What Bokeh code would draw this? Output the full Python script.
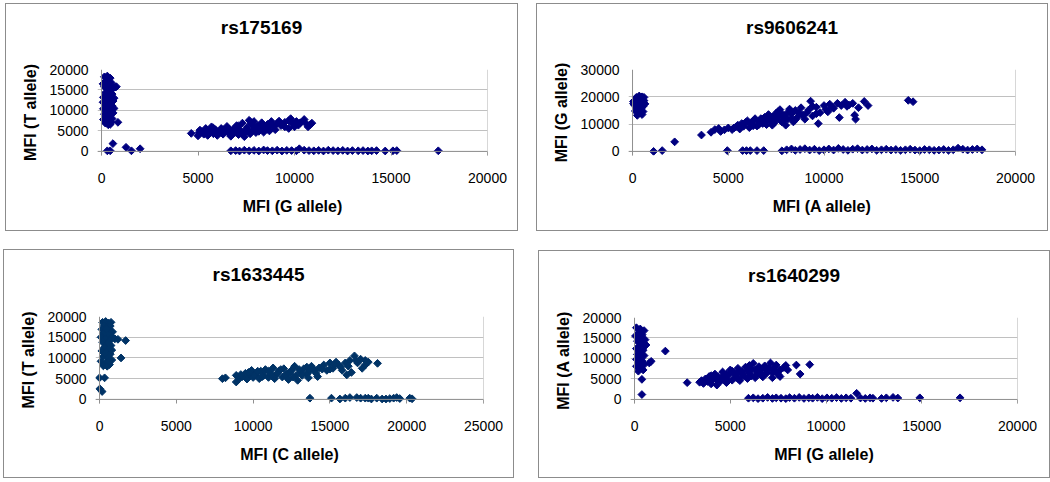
import numpy as np
from bokeh.plotting import figure
from bokeh.layouts import column, row
from bokeh.models import Span, FixedTicker, Range1d, Title
from bokeh.embed import file_html
from bokeh.resources import INLINE

# ---------------- data ----------------
TITLES = ["rs175169", "rs9606241", "rs1633445", "rs1640299"]
X_LABELS = ["MFI (G allele)", "MFI (A allele)", "MFI (C allele)", "MFI (G allele)"]
Y_LABELS = ["MFI (T allele)", "MFI (G allele)", "MFI (T allele)", "MFI (A allele)"]
X_TICKS = [[0, 5000, 10000, 15000, 20000], [0, 5000, 10000, 15000, 20000],
           [0, 5000, 10000, 15000, 20000, 25000], [0, 5000, 10000, 15000, 20000]]
Y_TICKS = [[0, 5000, 10000, 15000, 20000], [0, 10000, 20000, 30000],
           [0, 5000, 10000, 15000, 20000], [0, 5000, 10000, 15000, 20000]]
COLORS = ["#000080", "#000080", "#003366", "#000080"]

# rs175169 : (G allele, T allele)
P1_TT = [(150,18200),(300,18400),(450,17900),(250,17300),(500,16800),(350,16300),(150,15800),
         (600,15600),(700,15700),(300,15200),(450,14700),(200,14300),(550,14000),(350,13600),
         (100,13200),(450,13000),(250,12500),(600,12300),(150,11900),(400,11600),(550,11100),
         (250,10800),(100,10400),(450,10200),(300,9700),(600,9400),(150,9100),(400,8800),
         (250,8300),(550,8000),(100,7800),(350,7500),(500,7100),(200,6900),(450,6600),
         (850,7100),(770,15800),(350,6500),(650,13000),(650,10500),(80,12000),(80,16500),
         (300,150),(450,150),(590,1900),(1270,1000),(1550,150),(2000,650)]
P1_GT = [(4650,4400),(5000,3800),(5050,4600),(5100,5200),(5300,4200),(5400,5600),(5500,3900),
         (5600,4800),(5700,6000),(5800,4300),(5900,5300),(6000,3900),(6100,4700),(6200,5600),
         (6300,4200),(6400,5000),(6500,6100),(6600,4400),(6700,3700),(6800,5300),(6900,4600),
         (7000,6300),(7100,4100),(7200,5100),(7300,6900),(7400,3600),(7450,4700),(7550,5800),
         (7650,7600),(7700,4300),(7800,6500),(7850,5200),(7900,7300),(8000,4600),(8100,6200),
         (8200,5400),(8300,7000),(8400,4700),(8500,5800),(8600,6600),(8700,5000),(8800,7300),
         (8900,6000),(9100,6800),(9300,6300),(9500,7100),(9700,5600),(9800,8000),(9900,6800),
         (10100,7300),(10200,6400),(10500,7800),(10700,6000),(10800,6500),(10900,6900),
         (5200,4800),(5500,5000),(5800,5700),(6200,4600),(6600,5500),(6900,5500),(7100,6200),
         (7300,4500),(7600,4900),(7750,6900),(8000,5800),(8300,6000),(8600,5400),(9000,5300),
         (9200,7400),(9500,6000),(9700,7500),(10000,6000),(10300,7000),(10600,6800),(6300,5300),
         (7000,4800),(7500,5400),(8150,4900),(8800,6600)]
P1_GG = [(6700,150),(6950,200),(7150,100),(7400,300),(7650,150),(7900,250),(8150,100),(8400,350),
         (8600,200),(8850,150),(9100,300),(9350,100),(9600,250),(9850,200),(10100,150),(10250,650),
         (10500,300),(10750,200),(11000,150),(11250,250),(11500,100),(11750,300),(12000,200),
         (12250,150),(12500,250),(12750,100),(13000,200),(13300,150),(13550,200),(13800,100),
         (14000,150),(14250,200),(14700,100),(15100,150),(15300,200),(17450,150)]

# rs9606241 : (A allele, G allele)
P2_GG = [(50,17500),(200,19800),(350,20300),(500,20000),(150,18900),(400,19200),(600,18600),
         (250,18100),(450,17600),(100,17000),(350,16800),(550,16500),(200,16000),(450,15600),
         (300,15100),(550,14600),(150,14800),(400,14000),(250,13200),(500,13500),(600,19800),
         (300,17300),(650,17400),(50,18300)]
P2_AG = [(2200,3500),(3600,6000),(4100,7000),(4300,8000),(4600,7300),(4800,7900),(5000,8600),
         (5200,8000),(5400,9000),(5600,8200),(5700,10200),(5800,9200),(6000,11200),(6100,8700),
         (6200,10000),(6400,12000),(6500,9300),(6600,11000),(6800,10200),(6900,12500),(7000,9800),
         (7100,13500),(7200,11300),(7400,10500),(7500,14000),(7600,12300),(7700,15300),(7800,10800),
         (7900,13200),(8000,9600),(8100,11800),(8200,15500),(8300,13800),(8400,10800),(8500,15000),
         (8600,12400),(8800,16000),(8900,13300),(9000,11800),(9200,15200),(9300,18400),(9400,13000),
         (9600,16200),(9700,10200),(9800,14200),(10000,16800),(10100,15400),(10300,17300),
         (10500,15800),(10700,17600),(10800,12400),(10900,16800),(11100,18000),(11300,17000),
         (11500,17600),(11600,13300),(11650,11800),(11800,16000),(12100,18300),(12300,16800),
         (14400,18700),(14650,18200),
         (5300,8600),(5500,9600),(5900,10600),(6300,9400),(6300,11200),(6700,12000),(6900,10800),
         (7300,12600),(7300,9600),(7500,11800),(7800,13600),(7900,11500),(8100,14200),(8300,12200),
         (8700,14000),(9100,14200),(9400,16500),(9600,13800),(10200,14500),(10400,16300),
         (11200,16500),(4500,8400),(6600,9800),(7000,11700),(7600,14600),(8500,11600)]
P2_AA = [(1100,0),(1550,300),(4950,300),(5750,300),(5950,300),(6150,300),(6500,300),(6850,300),
         (7800,200),(8050,600),(8300,900),(8500,400),(8750,700),(9000,1000),(9250,500),(9500,800),
         (9750,300),(10000,600),(10250,900),(10500,500),(10750,1100),(11000,700),(11250,400),
         (11500,800),(11750,1000),(12000,500),(12250,700),(12500,900),(12750,400),(13000,600),
         (13250,800),(13500,500),(13750,700),(14000,400),(14250,600),(14500,800),(14750,500),
         (15000,300),(15250,700),(15500,600),(15750,400),(16000,500),(16250,700),(16500,400),
         (16750,600),(17000,1200),(17250,800),(17500,500),(17750,700),(18000,900),(18250,600)]

# rs1633445 : (C allele, T allele)
P3_TT = [(200,18600),(400,18800),(600,18400),(750,18600),(300,17800),(500,17400),(700,17700),
         (150,16900),(400,16500),(650,16800),(850,16300),(250,15900),(550,15500),(800,15200),
         (100,15000),(400,14600),(650,14200),(1000,14600),(200,13800),(500,13300),(750,13000),
         (300,12500),(600,12100),(150,11700),(450,11300),(700,10900),(250,10400),(550,9900),
         (800,9500),(100,9200),(400,8800),(650,8400),(250,8100),(500,8000),(1200,14500),
         (1700,14200),(1400,10000),(0,5200),(330,5200),(20,2550),(170,1900),
         (350,16100),(600,13600),(350,11000),(600,9100),(800,11900),(450,17000)]
P3_CT = [(8000,5000),(8200,5200),(8900,4200),(8900,5800),(9100,5000),(9300,5500),(9500,6300),
         (9600,4900),(9800,5700),(9900,7000),(10000,5300),(10200,6200),(10400,5000),(10500,6800),
         (10700,5800),(10800,7200),(11000,5300),(11100,6500),(11300,7600),(11400,5000),(11500,6000),
         (11700,6900),(11900,5400),(12000,7400),(12200,6200),(12300,4800),(12500,7000),(12700,8000),
         (12800,5800),(12900,4600),(13100,6600),(13300,7400),(13500,6100),(13600,5200),(13800,8000),
         (14000,7000),(14200,5500),(14300,7600),(14600,8300),(14800,7000),(15000,8800),(15200,7500),
         (15400,9000),(15600,8200),(15800,7000),(16000,8800),(16100,5900),(16300,9400),(16400,6500),
         (16600,10500),(16800,8800),(17000,9700),(17100,7500),(17300,8300),(17500,9000),(18100,8700),
         (9200,6000),(9700,6500),(10100,5800),(10300,6800),(10600,5500),(11000,6800),(11200,5800),
         (11600,6400),(11800,7200),(12100,5800),(12400,6600),(12600,5400),(13000,7200),(13200,5800),
         (13500,7800),(13700,6900),(14100,6300),(14500,7300),(15000,7300),(15300,8400),(15700,7800),
         (16200,8000),(16700,9400),(17300,9400)]
P3_CC = [(13700,300),(15100,300),(15650,100),(16000,300),(16300,450),(16750,450),(17000,300),
         (17300,300),(17500,300),(17700,100),(18050,300),(18400,100),(18650,100),(18900,200),
         (19150,300),(19350,450),(19550,200),(20200,300),(20350,150)]

# rs1640299 : (G allele, A allele)
P4_AA = [(100,17500),(300,17200),(500,16800),(200,16200),(400,15800),(50,15500),(300,15000),
         (550,14600),(150,14200),(400,13800),(600,13300),(250,12900),(100,12400),(450,12000),
         (300,11500),(150,11000),(500,10700),(250,10200),(100,9800),(400,9400),(200,8900),
         (500,8500),(100,8100),(300,7700),(450,7200),(200,6900),(560,13200),(770,8900),
         (870,9300),(385,4900),(385,1200),(1610,11800)]
P4_GA = [(2750,4100),(3400,4200),(3500,4600),(3600,3900),(3700,5000),(3800,4400),(3900,5600),
         (4000,3800),(4100,4900),(4200,6200),(4300,3500),(4400,5400),(4500,4500),(4600,6700),
         (4700,5000),(4800,4100),(4900,5900),(5000,7200),(5100,4700),(5200,6300),(5300,5400),
         (5400,7600),(5500,4600),(5600,6800),(5700,5800),(5800,7900),(5900,5100),(6000,6500),
         (6100,7400),(6200,8800),(6300,5300),(6400,6200),(6500,8000),(6600,7000),(6700,5500),
         (6800,8200),(6900,6400),(7000,7600),(7100,8900),(7200,5300),(7300,7000),(7400,8400),
         (7500,6100),(7600,5600),(7800,7800),(7900,8300),(8000,7200),(8450,8400),(8650,6200),
         (9150,8500),
         (4000,5800),(4300,4700),(4600,5600),(4900,4600),(5100,6900),(5400,5100),(5600,6200),
         (5900,7000),(6100,5700),(6300,7200),(6600,6100),(6900,7200),(7200,6500),(7300,7900),
         (7600,7200),(6000,8300),(5400,6600),(4800,6200),(3800,4900)]
P4_GG = [(5950,300),(6200,400),(6450,200),(6700,300),(6950,500),(7200,250),(7400,400),(7650,300),
         (7900,200),(8100,450),(8350,300),(8600,500),(8850,250),(9100,400),(9300,300),(9550,500),
         (9800,200),(10050,400),(10300,300),(10550,450),(10800,250),(11050,400),(11300,300),
         (11600,1500),(11800,350),(12050,250),(12300,400),(12450,300),(12900,250),(13150,400),
         (13500,500),(13750,350),(14900,400),(17000,400)]

PANEL_POINTS = [P1_TT + P1_GT + P1_GG, P2_GG + P2_AG + P2_AA,
                P3_TT + P3_CT + P3_CC, P4_AA + P4_GA + P4_GG]

# ---------------- layout (page pixels measured on the reference) ----------------
# box = (left, top, right, bottom); frame = (x of 0, x of max, y of max, y of 0)
BOXES = [(5, 3, 517, 230), (536, 3, 1047, 230), (3, 249, 513, 477), (538, 250, 1049, 477)]
FRAMES = [(101, 485, 69, 149), (632, 1013, 69, 149), (99, 481, 316, 397), (634, 1015, 317, 398)]

FONT = "Liberation Sans"
EXT = 4  # pixels that the frame extends beyond the zero lines (tick length)
TITLE_SIZE = 19


def text_w(s, size):
    w = {"r": .389, "s": .556}
    return sum(w.get(c, .556) for c in s) * size


def make_panel(i):
    L, T, R, B = BOXES[i]
    x0, x1, yt, y0 = FRAMES[i]
    xmax = X_TICKS[i][-1]
    ymax = Y_TICKS[i][-1]
    W, H = R - L + 1, B - T + 1
    cw, ch = W - 2, H - 2
    cx, cy = L + 1, T + 1
    ppx = (x1 - x0) / xmax
    ppy = (y0 - yt) / ymax
    p = figure(width=W, height=H, output_backend="svg", toolbar_location=None,
               x_range=Range1d(-EXT / ppx, xmax), y_range=Range1d(-EXT / ppy, ymax),
               min_border_left=(x0 - EXT) - cx, min_border_right=(cx + cw) - x1,
               min_border_top=yt - cy, min_border_bottom=(cy + ch) - (y0 + EXT))
    p.styles = {"border": "1px solid #8c8c8c"}
    p.outline_line_color = None
    p.background_fill_color = "white"
    p.border_fill_color = "white"

    # spacer between frame and title
    p.add_layout(Title(text=" ", text_font_size="10px", standoff=19), "above")
    p.title.text = TITLES[i]
    p.title.text_font = FONT
    p.title.text_font_size = f"{TITLE_SIZE}px"
    p.title.text_font_style = "bold"
    p.title.text_color = "black"
    p.title.align = "left"
    p.title.offset = ((L + R) / 2 - text_w(TITLES[i], TITLE_SIZE) / 2) - (x0 - EXT)
    p.title.standoff = 0

    p.xaxis.ticker = FixedTicker(ticks=X_TICKS[i])
    p.yaxis.ticker = FixedTicker(ticks=Y_TICKS[i])
    for ax in (p.xaxis[0], p.yaxis[0]):
        ax.axis_line_color = None
        ax.minor_tick_line_color = None
        ax.major_label_text_font = FONT
        ax.major_label_text_font_size = "14px"
        ax.major_label_text_color = "black"
        ax.axis_label_text_font = FONT
        ax.axis_label_text_font_size = "16px"
        ax.axis_label_text_font_style = "bold"
        ax.axis_label_text_color = "black"
        ax.major_tick_line_color = "#909090"
    p.xaxis.axis_label = X_LABELS[i]
    p.yaxis.axis_label = Y_LABELS[i]
    p.xaxis.major_tick_in = EXT
    p.xaxis.major_tick_out = 0
    p.xaxis.major_label_standoff = 17
    p.xaxis.axis_label_standoff = 12
    p.yaxis.major_tick_in = 0
    p.yaxis.major_tick_out = 0
    p.yaxis.major_label_standoff = 9
    p.yaxis.axis_label_standoff = 8

    p.xgrid.visible = False
    p.ygrid.grid_line_color = "#c0c0c0"
    p.ygrid.ticker = FixedTicker(ticks=Y_TICKS[i])

    p.add_layout(Span(location=0, dimension="height", line_color="#909090", line_width=1))
    p.add_layout(Span(location=0, dimension="width", line_color="#909090", line_width=1))
    p.add_layout(Span(location=xmax, dimension="height", line_color="#b0b0b0", line_width=1))

    xs, ys = zip(*PANEL_POINTS[i])
    p.scatter(list(xs), list(ys), marker="square", angle=np.pi / 4, size=5.5,
              fill_color=COLORS[i], line_color=COLORS[i], line_width=1)
    return p


panels = [make_panel(i) for i in range(4)]
W = [b[2] - b[0] + 1 for b in BOXES]
H = [b[3] - b[1] + 1 for b in BOXES]
row1_bottom = BOXES[0][1] + H[0]
panels[0].margin = (BOXES[0][1], 0, 0, BOXES[0][0])
panels[1].margin = (BOXES[1][1], 0, 0, BOXES[1][0] - (BOXES[0][0] + W[0]))
panels[2].margin = (BOXES[2][1] - row1_bottom, 0, 0, BOXES[2][0])
panels[3].margin = (BOXES[3][1] - row1_bottom, 0, 0, BOXES[3][0] - (BOXES[2][0] + W[2]))

layout = column(row(panels[0], panels[1], spacing=0), row(panels[2], panels[3], spacing=0), spacing=0)

open("out.html", "w").write(file_html(layout, INLINE))
